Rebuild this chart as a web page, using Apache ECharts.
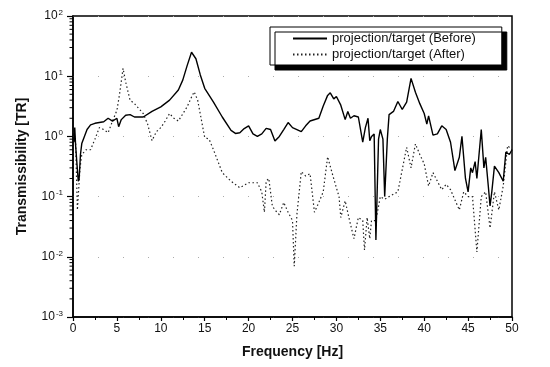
<!DOCTYPE html>
<html>
<head>
<meta charset="utf-8">
<script src="https://cdn.jsdelivr.net/npm/echarts@6/dist/echarts.min.js"></script>
<style>
  html, body { margin: 0; padding: 0; background: #fff; }
  #chart { width: 550px; height: 367px; }
</style>
</head>
<body>
<div id="chart"></div>
<script>
// Transmissibility of projection/target, before and after modification
const seriesNames = ['projection/target (Before)', 'projection/target (After)'];

const freqBefore = [0.1, 0.2, 0.3, 0.45, 0.6, 0.7, 0.85, 1.0, 1.3, 1.6, 2.0, 2.5, 3.0, 3.5, 4.0, 4.5, 5.0, 5.2, 5.5, 6.0, 6.5, 7.0, 8.0, 9.0, 10.0, 11.0, 12.0, 12.5, 13.0, 13.5, 14.0, 14.5, 15.0, 16.0, 17.0, 18.0, 18.5, 19.0, 19.5, 20.0, 20.5, 21.0, 21.5, 22.0, 22.5, 23.0, 23.5, 24.0, 24.5, 25.0, 25.5, 26.0, 26.5, 27.0, 28.0, 28.5, 29.0, 29.3, 29.7, 30.0, 30.5, 31.0, 31.3, 31.6, 32.0, 32.5, 33.0, 33.3, 33.6, 33.8, 34.0, 34.3, 34.5, 34.8, 35.0, 35.3, 35.5, 35.8, 36.0, 36.5, 37.0, 37.5, 38.0, 38.2, 38.5, 39.0, 39.5, 40.0, 40.3, 40.5, 41.0, 41.5, 42.0, 42.5, 43.0, 43.5, 44.0, 44.3, 44.7, 45.0, 45.3, 45.5, 45.8, 46.0, 46.5, 46.8, 47.0, 47.3, 47.5, 47.7, 48.0, 48.5, 49.0, 49.3, 49.7, 50.0];
const valsBefore = [0.8, 1.4, 0.7, 0.35, 0.18, 0.2, 0.5, 0.76, 1.0, 1.3, 1.55, 1.65, 1.7, 1.75, 2.0, 1.8, 2.0, 1.45, 1.9, 2.25, 2.3, 2.1, 2.1, 2.6, 3.1, 4.0, 5.9, 8.6, 15, 25, 19.5, 10.5, 6.3, 3.7, 2.1, 1.26, 1.12, 1.15, 1.35, 1.5, 1.1, 1.0, 1.1, 1.36, 1.3, 0.84, 1.0, 1.3, 1.7, 1.4, 1.3, 1.2, 1.5, 1.8, 2.0, 3.2, 4.8, 5.3, 4.2, 4.6, 3.3, 1.9, 2.6, 2.0, 2.2, 2.1, 0.8, 1.4, 2.0, 0.85, 1.0, 1.1, 0.019, 0.9, 1.3, 0.9, 0.1, 0.9, 2.3, 2.6, 3.8, 2.8, 3.7, 3.5, 9.2, 5.4, 3.5, 2.4, 1.6, 2.2, 1.05, 1.1, 1.5, 1.3, 0.8, 0.27, 0.45, 1.0, 0.2, 0.12, 0.3, 0.25, 0.38, 0.2, 1.3, 0.3, 0.45, 0.15, 0.07, 0.12, 0.32, 0.25, 0.18, 0.55, 0.5, 0.6];

const freqAfter = [0.1, 0.3, 0.5, 0.8, 1.0, 1.5, 2.0, 2.5, 3.0, 3.5, 4.0, 4.5, 5.0, 5.3, 5.7, 6.0, 6.5, 7.0, 8.0, 8.5, 9.0, 9.5, 10.0, 10.5, 11.0, 11.5, 12.0, 13.0, 13.5, 13.8, 14.2, 15.0, 15.5, 16.0, 17.0, 18.0, 19.0, 20.0, 21.0, 21.5, 21.8, 22.0, 22.3, 22.7, 23.0, 23.5, 24.0, 24.5, 25.0, 25.2, 25.5, 26.0, 26.5, 27.0, 27.5, 28.0, 28.5, 29.0, 29.5, 30.0, 30.3, 30.5, 31.0, 31.5, 32.0, 32.5, 33.0, 33.2, 33.5, 33.8, 34.0, 34.5, 35.0, 35.5, 36.0, 37.0, 38.0, 38.5, 39.0, 39.5, 40.0, 40.5, 41.0, 41.5, 42.0, 42.5, 43.0, 44.0, 44.5, 45.0, 45.5, 46.0, 46.5, 47.0, 47.5, 48.0, 48.5, 49.0, 49.5, 50.0];
const valsAfter = [1.2, 0.8, 0.06, 0.3, 0.5, 0.6, 0.6, 0.9, 1.4, 1.3, 1.15, 1.8, 2.7, 5.0, 13.5, 8.0, 4.0, 3.5, 2.4, 1.6, 0.85, 1.2, 1.4, 1.8, 2.4, 2.0, 1.8, 3.1, 4.5, 5.5, 4.0, 0.96, 0.9, 0.6, 0.25, 0.18, 0.14, 0.17, 0.17, 0.12, 0.055, 0.18, 0.2, 0.07, 0.06, 0.05, 0.08, 0.055, 0.04, 0.007, 0.05, 0.26, 0.22, 0.24, 0.055, 0.08, 0.12, 0.46, 0.25, 0.14, 0.1, 0.045, 0.085, 0.04, 0.02, 0.045, 0.04, 0.013, 0.045, 0.02, 0.04, 0.04, 0.1, 0.09, 0.1, 0.12, 0.66, 0.3, 0.75, 0.5, 0.35, 0.15, 0.25, 0.18, 0.13, 0.16, 0.13, 0.06, 0.12, 0.1, 0.1, 0.012, 0.1, 0.12, 0.03, 0.12, 0.06, 0.15, 0.7, 0.6];

// decade range of the transmissibility axis (exponents)
const decadeExponents = [-3, -2, -1, 0, 1, 2];

const pairs = (xs, ys) => xs.map((x, i) => [x, ys[i]]);

// log-spaced minor tick values at 2..9 within each decade
const minorTickValues = [];
decadeExponents.slice(0, -1).forEach(e => {
  for (let m = 2; m <= 9; m++) minorTickValues.push(m * Math.pow(10, e));
});

const chart = echarts.init(document.getElementById('chart'), null, { renderer: 'canvas' });
const font = 'Liberation Sans, Arial, sans-serif';
const eMin = decadeExponents[0];
const eMax = decadeExponents[decadeExponents.length - 1];

chart.setOption({
  animation: false,
  backgroundColor: '#fff',
  grid: { left: 73, right: 38, top: 16, bottom: 50, show: true, borderColor: '#000', borderWidth: 1.5 },
  legend: {
    show: true,
    left: 270, top: 27,
    orient: 'vertical',
    padding: [5, 26, 4, 22],
    itemGap: 3,
    itemWidth: 34, itemHeight: 12,
    backgroundColor: '#fff',
    borderColor: '#000', borderWidth: 1,
    shadowColor: '#000', shadowBlur: 0, shadowOffsetX: 5, shadowOffsetY: 5,
    itemStyle: { opacity: 0 },
    textStyle: { fontFamily: font, fontSize: 13, color: '#111', padding: [0, 0, 0, 0] },
    data: seriesNames
  },
  xAxis: {
    type: 'value', min: 0, max: 50, interval: 5,
    name: 'Frequency [Hz]', nameLocation: 'middle', nameGap: 28,
    nameTextStyle: { fontFamily: font, fontSize: 14, fontWeight: 'bold', color: '#111' },
    axisLine: { onZero: false, lineStyle: { color: '#000', width: 1.5 } },
    axisTick: { show: true, inside: false, length: 4, lineStyle: { color: '#000', width: 1.2 } },
    minorTick: { show: true, splitNumber: 2, length: 3, lineStyle: { color: '#000' } },
    axisLabel: { fontFamily: font, fontSize: 12, color: '#111', margin: 6 },
    splitLine: { show: false }
  },
  yAxis: {
    type: 'log', logBase: 10, min: Math.pow(10, eMin), max: Math.pow(10, eMax),
    name: 'Transmissibility [TR]', nameLocation: 'middle', nameGap: 44,
    nameTextStyle: { fontFamily: font, fontSize: 14, fontWeight: 'bold', color: '#111' },
    axisLine: { lineStyle: { color: '#000', width: 1.5 } },
    axisTick: { show: true, inside: false, length: 6, lineStyle: { color: '#000', width: 1.2 } },
    minorTick: { show: false },
    axisLabel: {
      fontFamily: font, fontSize: 12, color: '#111', margin: 10,
      formatter: v => '10{s|' + Math.round(Math.log10(v)) + '}',
      rich: { s: { fontFamily: font, fontSize: 8, color: '#111', verticalAlign: 'top', padding: [0, 0, 7, 1] } }
    },
    splitLine: { show: true, lineStyle: { color: '#aaa', width: 1, type: [1, 24] } }
  },
  series: [
    {
      name: seriesNames[0], type: 'line', showSymbol: false, symbol: 'none',
      data: pairs(freqBefore, valsBefore),
      lineStyle: { color: '#000', width: 1.4 }, itemStyle: { color: '#000' },
      z: 3
    },
    {
      name: seriesNames[1], type: 'line', showSymbol: false, symbol: 'none',
      data: pairs(freqAfter, valsAfter),
      lineStyle: { color: '#222', width: 1.2, type: [1.5, 2.5] }, itemStyle: { color: '#222' },
      z: 2
    },
    {
      // short outward ticks on the left axis at 2..9 of each decade
      name: 'minor ticks', type: 'custom', silent: true, clip: false, z: 5,
      data: minorTickValues.map(v => [0, v]),
      encode: { x: 0, y: 1 },
      renderItem: (params, api) => {
        const p = api.coord([0, api.value(1)]);
        return {
          type: 'line',
          shape: { x1: p[0] - 3.5, y1: p[1], x2: p[0], y2: p[1] },
          style: { stroke: '#000', lineWidth: 1 }
        };
      }
    }
  ]
});
</script>
</body>
</html>
